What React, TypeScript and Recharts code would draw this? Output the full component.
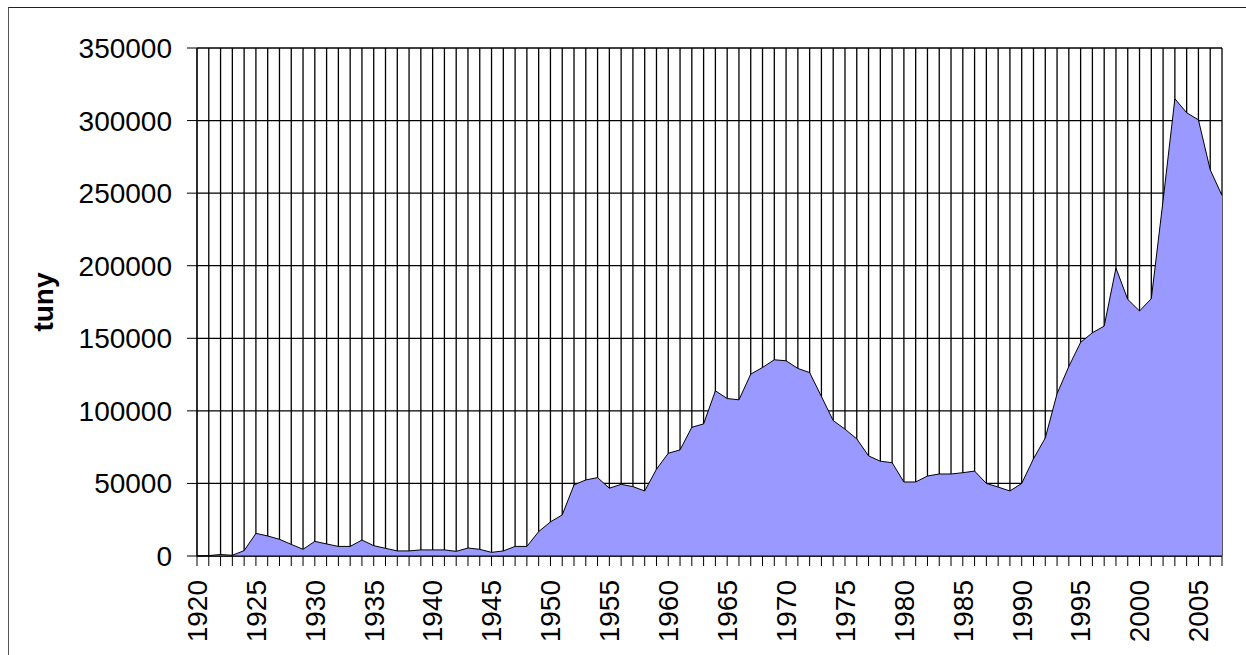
import React from 'react';
import { AreaChart, Area, XAxis, YAxis, CartesianGrid } from 'recharts';

const years = [
  1920, 1921, 1922, 1923, 1924, 1925, 1926, 1927, 1928, 1929,
  1930, 1931, 1932, 1933, 1934, 1935, 1936, 1937, 1938, 1939,
  1940, 1941, 1942, 1943, 1944, 1945, 1946, 1947, 1948, 1949,
  1950, 1951, 1952, 1953, 1954, 1955, 1956, 1957, 1958, 1959,
  1960, 1961, 1962, 1963, 1964, 1965, 1966, 1967, 1968, 1969,
  1970, 1971, 1972, 1973, 1974, 1975, 1976, 1977, 1978, 1979,
  1980, 1981, 1982, 1983, 1984, 1985, 1986, 1987, 1988, 1989,
  1990, 1991, 1992, 1993, 1994, 1995, 1996, 1997, 1998, 1999,
  2000, 2001, 2002, 2003, 2004, 2005, 2006, 2007,
];

const tons = [
  0, 300, 1000, 500, 3700, 15600, 13800, 11500, 8000, 4600,
  10100, 8300, 6600, 6600, 11000, 7100, 5300, 3500, 3500, 4200,
  4200, 4200, 3200, 5500, 4600, 2500, 3500, 6600, 6600, 16800,
  23500, 28300, 49000, 52400, 54000, 46700, 49400, 47800, 44800, 59800,
  70800, 73100, 88700, 91000, 113800, 108500, 107600, 125300, 129900, 135200,
  134500, 129200, 126400, 109900, 93300, 87400, 80700, 69000, 65300, 64300,
  51000, 51000, 55100, 56500, 56500, 57400, 58500, 50000, 47500, 44800,
  50000, 67000, 81300, 111800, 130600, 147200, 153800, 158400, 198400, 176800,
  168800, 177300, 245000, 315000, 305400, 300500, 266100, 248400,
];

const yTicks = [0, 50000, 100000, 150000, 200000, 250000, 300000, 350000];

const data = years.map((year, i) => ({ year, value: tons[i] }));

const font = '"Liberation Sans", Arial, sans-serif';

function YearTick(props: any) {
  const { x, payload } = props;
  const y = props.y + 1;
  if (payload.value % 5 !== 0) return <g />;
  return (
    <text
      x={x}
      y={y}
      dy="0.35em"
      transform={`rotate(-90, ${x}, ${y})`}
      textAnchor="end"
      fontSize={28}
      fontFamily={font}
      fill="#000"
    >
      {payload.value}
    </text>
  );
}

function AxisTitle(props: any) {
  const { viewBox } = props;
  const x = viewBox.x + 16;
  const y = viewBox.y + viewBox.height / 2;
  return (
    <text
      x={x}
      y={y}
      transform={`rotate(-90, ${x}, ${y})`}
      textAnchor="middle"
      fontSize={28}
      fontWeight="bold"
      fontFamily={font}
      fill="#000"
    >
      tuny
    </text>
  );
}

export default function App() {
  return (
    <div
      style={{
        position: 'absolute',
        left: 8,
        top: 7,
        width: 1238,
        height: 648,
        borderTop: '1px solid #222',
        borderLeft: '1px solid #555',
        background: '#fff',
      }}
    >
      <AreaChart
        width={1237}
        height={647}
        data={data}
        margin={{ top: 40, right: 24, bottom: 9, left: 28 }}
      >
        <CartesianGrid stroke="#000" strokeWidth={1.3} />
        <XAxis
          dataKey="year"
          interval={0}
          tickSize={10}
          tickMargin={13}
          height={90}
          tick={<YearTick />}
          tickLine={{ stroke: '#000' }}
          axisLine={{ stroke: '#000' }}
        />
        <YAxis
          domain={[0, 350000]}
          ticks={yTicks}
          width={160}
          tickSize={10}
          tickMargin={15}
          interval={0}
          tick={{ fill: '#000', fontSize: 28, fontFamily: font }}
          tickLine={{ stroke: '#000' }}
          axisLine={{ stroke: '#000' }}
          label={<AxisTitle />}
        />
        <Area
          type="linear"
          dataKey="value"
          stroke="#000"
          strokeWidth={1}
          fill="#9999ff"
          fillOpacity={1}
          isAnimationActive={false}
        />
      </AreaChart>
    </div>
  );
}
